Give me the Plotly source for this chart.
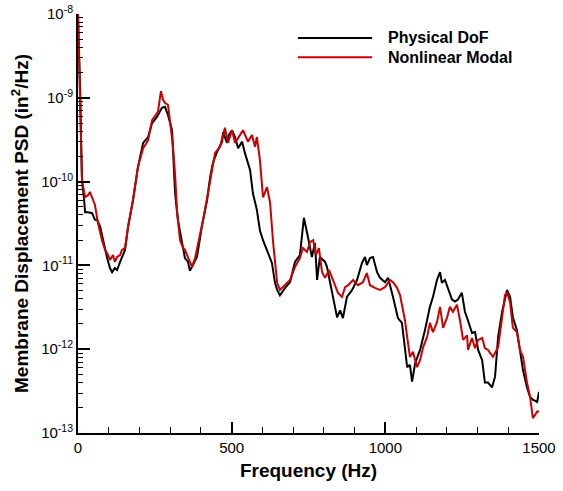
import plotly.graph_objects as go

# ---- data ----
freq_phys = [0, 3, 7, 10, 13, 20, 23, 33, 46, 55, 62, 72, 81, 94, 104, 111, 120, 127, 137, 143,
             153, 163, 179, 195, 212, 228, 241, 257, 267, 273, 283, 293, 306, 316, 325, 342, 348, 358, 364, 374,
             387, 403, 420, 430, 439, 452, 469, 472, 485, 491, 501, 511, 521, 534, 543, 560, 569, 582, 592, 602,
             615, 631, 641, 648, 657, 674, 690, 706, 722, 735, 748, 761, 771, 778, 787, 804, 810, 820, 830, 843,
             853, 862, 875, 892, 908, 924, 934, 940, 950, 960, 973, 983, 999, 1009, 1025, 1041, 1054, 1058, 1071, 1080,
             1087, 1097, 1113, 1129, 1145, 1155, 1168, 1178, 1184, 1194, 1204, 1217, 1227, 1236, 1249, 1259, 1269, 1282, 1292, 1302,
             1315, 1324, 1334, 1347, 1357, 1367, 1380, 1396, 1406, 1415, 1428, 1438, 1448, 1461, 1471, 1480, 1494, 1500]
psd_phys = [9.7e-9, 4.9e-9, 1.24e-9, 3.1e-10, 1.04e-10, 6.0e-11, 4.3e-11, 4.3e-11, 4.2e-11, 3.5e-11,
            3.5e-11, 2.9e-11, 2.0e-11, 1.26e-11, 9.3e-12, 8.3e-12, 9.3e-12, 8.8e-12, 1.10e-11, 1.26e-11,
            1.53e-11, 2.9e-11, 6.0e-11, 1.49e-10, 2.9e-10, 3.4e-10, 5.0e-10, 5.9e-10, 7.1e-10, 7.6e-10,
            7.8e-10, 6.2e-10, 4.1e-10, 7.3e-11, 3.5e-11, 1.53e-11, 1.22e-11, 1.10e-11, 8.6e-12, 1.01e-11,
            1.26e-11, 2.9e-11, 6.0e-11, 1.13e-10, 1.67e-10, 2.25e-10, 3.0e-10, 3.9e-10, 2.9e-10, 3.6e-10,
            4.1e-10, 3.4e-10, 2.5e-10, 3.0e-10, 2.2e-10, 1.37e-10, 7.3e-11, 4.6e-11, 2.6e-11, 2.0e-11,
            1.53e-11, 1.07e-11, 6.2e-12, 5.1e-12, 4.4e-12, 5.4e-12, 6.3e-12, 1.10e-11, 1.33e-11, 3.7e-11,
            2.2e-11, 1.26e-11, 1.85e-11, 6.7e-12, 1.26e-11, 1.10e-11, 9.6e-12, 6.2e-12, 3.9e-12, 2.4e-12,
            2.9e-12, 2.35e-12, 4.2e-12, 5.1e-12, 6.7e-12, 1.07e-11, 1.26e-11, 1.01e-11, 1.22e-11, 1.26e-11,
            8.3e-12, 7.1e-12, 6.3e-12, 7.1e-12, 4.2e-12, 2.35e-12, 2.06e-12, 1.56e-12, 6.1e-13, 6.5e-13,
            4.1e-13, 6.8e-13, 9.8e-13, 1.69e-12, 3.2e-12, 4.2e-12, 6.7e-12, 8.3e-12, 6.2e-12, 6.7e-12,
            5.4e-12, 3.9e-12, 3.7e-12, 3.9e-12, 4.7e-12, 2.8e-12, 2.2e-12, 1.56e-12, 1.6e-12, 9.8e-13,
            7.4e-13, 4.0e-13, 4.0e-13, 3.5e-13, 4.7e-13, 1.4e-12, 2.8e-12, 5.1e-12, 4.2e-12, 2.4e-12,
            1.69e-12, 9.0e-13, 5.6e-13, 3.5e-13, 2.7e-13, 2.5e-13, 2.35e-13, 3.1e-13]

freq_modal = [0, 3, 7, 10, 13, 23, 33, 39, 49, 55, 65, 78, 88, 98, 104, 114, 120, 127, 137, 143,
              153, 163, 179, 195, 212, 228, 241, 251, 260, 270, 277, 283, 293, 299, 309, 316, 322, 332, 342, 348,
              358, 371, 381, 387, 407, 423, 436, 446, 462, 478, 488, 501, 511, 521, 537, 553, 566, 576, 582, 592,
              602, 615, 625, 635, 648, 657, 674, 690, 706, 722, 732, 745, 755, 765, 774, 784, 794, 804, 817, 830,
              846, 859, 869, 879, 895, 911, 927, 940, 950, 966, 983, 999, 1015, 1025, 1038, 1048, 1058, 1064, 1071, 1080,
              1090, 1103, 1113, 1123, 1136, 1145, 1155, 1168, 1178, 1188, 1201, 1210, 1220, 1233, 1243, 1253, 1266, 1269, 1282, 1292,
              1302, 1315, 1324, 1334, 1350, 1367, 1380, 1389, 1396, 1406, 1415, 1428, 1438, 1448, 1461, 1471, 1480, 1494, 1500]
psd_modal = [1.0e-8, 3.7e-9, 9.4e-10, 2.4e-10, 1.04e-10, 6.5e-11, 6.9e-11, 7.5e-11, 6.0e-11, 5.3e-11,
             3.2e-11, 2.0e-11, 1.53e-11, 1.33e-11, 1.16e-11, 1.33e-11, 1.10e-11, 1.26e-11, 1.33e-11, 1.53e-11,
             1.61e-11, 2.9e-11, 6.0e-11, 1.49e-10, 2.5e-10, 3.1e-10, 5.4e-10, 6.2e-10, 6.8e-10, 1.2e-9,
             9.4e-10, 8.7e-10, 8.2e-10, 5.4e-10, 2.6e-10, 1.2e-10, 4.6e-11, 2.0e-11, 1.61e-11, 1.53e-11,
             1.22e-11, 9.6e-12, 1.22e-11, 1.53e-11, 3.5e-11, 7.3e-11, 1.37e-10, 2.2e-10, 2.6e-10, 4.4e-10,
             2.9e-10, 4.1e-10, 2.9e-10, 3.3e-10, 4.1e-10, 3.0e-10, 3.6e-10, 2.6e-10, 3.4e-10, 1.8e-10,
             6.5e-11, 8.6e-11, 5.6e-11, 1.85e-11, 6.2e-12, 5.1e-12, 5.8e-12, 6.7e-12, 9.6e-12, 1.22e-11,
             1.61e-11, 1.45e-11, 1.9e-11, 2.0e-11, 1.33e-11, 1.61e-11, 8.3e-12, 7.1e-12, 8.8e-12, 6.7e-12,
             4.7e-12, 4.2e-12, 5.5e-12, 5.8e-12, 6.7e-12, 5.8e-12, 6.3e-12, 8.1e-12, 5.8e-12, 5.4e-12,
             5.1e-12, 5.5e-12, 6.7e-12, 6.3e-12, 5.4e-12, 4.4e-12, 2.9e-12, 2.2e-12, 1.4e-12, 8.1e-13,
             9.3e-13, 6.1e-13, 7.4e-13, 1.06e-12, 1.4e-12, 2.06e-12, 1.6e-12, 2.1e-12, 3.2e-12, 1.8e-12,
             2.4e-12, 3.2e-12, 2.8e-12, 3.4e-12, 2.2e-12, 1.29e-12, 1.46e-12, 9.8e-13, 1.36e-12, 1.03e-12,
             1.29e-12, 1.36e-12, 1.03e-12, 9.8e-13, 8.1e-13, 1.06e-12, 2.4e-12, 4.4e-12, 4.8e-12, 3.6e-12,
             1.8e-12, 1.6e-12, 9.8e-13, 8.1e-13, 4.0e-13, 2.7e-13, 1.5e-13, 1.8e-13, 1.8e-13]

series_names = ["Physical DoF", "Nonlinear Modal"]
series_colors = ["#000000", "#cc0000"]

x_ticks = [0, 500, 1000, 1500]
y_exponents = [-13, -12, -11, -10, -9, -8]

FONT = "Liberation Sans, Arial, sans-serif"

fig = go.Figure()
for fx, py, name, col in [(freq_phys, psd_phys, series_names[0], series_colors[0]),
                          (freq_modal, psd_modal, series_names[1], series_colors[1])]:
    fig.add_trace(go.Scatter(x=fx, y=py, mode="lines", name=name,
                             line=dict(color=col, width=2), showlegend=False))

y_tickvals = [10.0 ** e for e in y_exponents]
y_ticktext = ["10<sup>%d</sup>" % e for e in y_exponents]
y_minor = [k * 10.0 ** e for e in y_exponents[:-1] for k in range(2, 10)]

fig.update_xaxes(range=[0, 1500], tickvals=x_ticks, ticktext=[str(v) for v in x_ticks],
                 automargin=False, ticklabeloverflow="allow",
                 showline=True, linewidth=2, linecolor="black", mirror=False,
                 ticks="inside", ticklen=11, tickwidth=2, tickcolor="black",
                 minor=dict(dtick=100, ticks="inside", ticklen=6, tickwidth=1, tickcolor="black"),
                 showgrid=False, zeroline=False,
                 tickfont=dict(family=FONT, size=15, color="black"),
                 title=dict(text="<b>Frequency (Hz)</b>", standoff=9,
                            font=dict(family=FONT, size=19, color="black")))
fig.update_yaxes(type="log", range=[-13, -8], tickvals=y_tickvals, ticktext=y_ticktext,
                 automargin=False, ticklabeloverflow="allow",
                 showline=True, linewidth=2, linecolor="black", mirror=False,
                 ticks="inside", ticklen=12, tickwidth=2, tickcolor="black",
                 minor=dict(tickvals=y_minor, ticks="inside", ticklen=5, tickwidth=1, tickcolor="black"),
                 showgrid=False, zeroline=False,
                 tickfont=dict(family=FONT, size=15, color="black"),
                 title=dict(text="<b>Membrane Displacement PSD (in<sup>2</sup>/Hz)</b>", standoff=7,
                            font=dict(family=FONT, size=19, color="black")))

# manual legend (long sample lines as in the reference)
legend_rows = [0.943, 0.897]
for yrow, name, col in zip(legend_rows, series_names, series_colors):
    fig.add_shape(type="line", xref="paper", yref="paper", x0=0.477, x1=0.638, y0=yrow, y1=yrow,
                  line=dict(color=col, width=2))
    fig.add_annotation(xref="paper", yref="paper", x=0.668, y=yrow, xanchor="left", yanchor="middle",
                       text="<b>%s</b>" % name, showarrow=False,
                       font=dict(family=FONT, size=16, color="black"))

fig.update_layout(width=563, height=491, margin=dict(l=78, r=24, t=14, b=58, autoexpand=False),
                  paper_bgcolor="white", plot_bgcolor="white",
                  font=dict(family=FONT, color="black"))

# remove the default 8px page margin so the figure fills the window exactly
fig.write_html("out.html", config={"displayModeBar": False},
               post_script="document.body.style.margin='0px';document.body.style.overflow='hidden';")
